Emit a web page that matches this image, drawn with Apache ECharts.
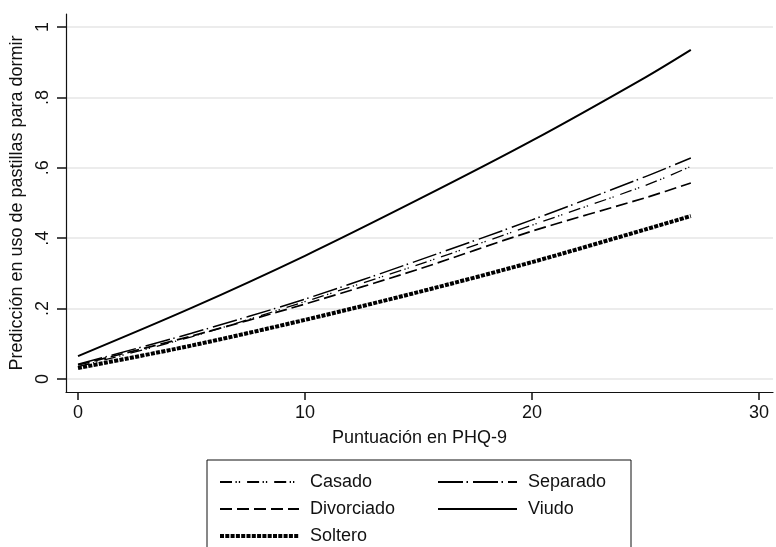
<!DOCTYPE html>
<html>
<head>
<meta charset="utf-8">
<script src="https://cdn.jsdelivr.net/npm/echarts@6/dist/echarts.min.js"></script>
<style>
  html, body { margin: 0; padding: 0; background: #fff; }
  #chart { width: 776px; height: 547px; }
</style>
</head>
<body>
<div id="chart"></div>
<script>
// puntuación PHQ-9 (eje x)
const xValues = [0, 5, 10, 15, 20, 25, 27];
// predicciones
const casado = [0.035, 0.120, 0.220, 0.325, 0.437, 0.550, 0.604];
const separado = [0.042, 0.130, 0.227, 0.337, 0.452, 0.575, 0.628];
const divorciado = [0.040, 0.122, 0.213, 0.312, 0.420, 0.515, 0.557];
const viudo = [0.065, 0.202, 0.350, 0.510, 0.677, 0.857, 0.935];
const soltero = [0.031, 0.095, 0.168, 0.247, 0.332, 0.425, 0.463];
const yTicks = [0, 0.2, 0.4, 0.6, 0.8, 1];
const xTicks = [0, 10, 20, 30];
const legendOrder = ['Casado', 'Separado', 'Divorciado', 'Viudo', 'Soltero'];
const rightColumn = ['Separado', 'Viudo'];

const font = 'Liberation Sans, Arial, sans-serif';
const chart = echarts.init(document.getElementById('chart'));

function pts(ys) {
  return xValues.map((x, i) => [x, ys[i]]);
}
function line(name, ys, style) {
  return {
    name: name,
    type: 'line',
    data: pts(ys),
    showSymbol: false,
    symbol: 'none',
    smooth: 0.3,
    silent: true,
    color: '#000',
    itemStyle: { color: '#000' },
    lineStyle: Object.assign({ color: '#000', cap: 'butt' }, style)
  };
}

const solteroStyle = { width: 4, type: [4, 1.3] };

const option = {
  animation: false,
  backgroundColor: '#fff',
  grid: { left: 66, right: 3, top: 14, bottom: 155, containLabel: false, outerBoundsMode: 'none' },
  xAxis: {
    type: 'value',
    min: -0.529,
    max: 30.62,
    name: 'Puntuación en PHQ-9',
    nameLocation: 'middle',
    nameGap: 37,
    nameTextStyle: { fontFamily: font, fontSize: 18, color: '#111' },
    axisLine: { show: true, onZero: false, lineStyle: { color: '#111', width: 1.2 } },
    axisTick: { show: true, length: 8, customValues: xTicks, lineStyle: { color: '#111', width: 1.5 } },
    axisLabel: { customValues: xTicks, margin: 12, fontFamily: font, fontSize: 18, color: '#111' },
    splitLine: { show: false }
  },
  yAxis: {
    type: 'value',
    min: -0.0369,
    max: 1.0369,
    name: 'Predicción en uso de pastillas para dormir',
    nameLocation: 'middle',
    nameGap: 38,
    nameTextStyle: { fontFamily: font, fontSize: 18, color: '#111' },
    axisLine: { show: true, onZero: false, lineStyle: { color: '#111', width: 1.2 } },
    axisTick: { show: true, length: 9, customValues: yTicks, lineStyle: { color: '#111', width: 1.5 } },
    axisLabel: {
      customValues: yTicks,
      rotate: 90,
      margin: 14,
      fontFamily: font,
      fontSize: 18,
      color: '#111',
      formatter: v => (v === 0 ? '0' : v === 1 ? '1' : String(v).replace(/^0/, ''))
    },
    splitLine: { show: true, lineStyle: { color: '#e6e6e6', width: 1.5 } }
  },
  legend: {
    data: legendOrder.map(n => (n === 'Soltero' ? { name: n, lineStyle: solteroStyle } : n)),
    left: 207,
    top: 460,
    width: 430,
    orient: 'horizontal',
    padding: [13, 3, 12, 11],
    itemGap: 9,
    itemWidth: 79,
    itemHeight: 14,
    borderColor: '#111',
    borderWidth: 1,
    selectedMode: false,
    itemStyle: { opacity: 0 },
    formatter: name => (rightColumn.indexOf(name) >= 0 ? '{b|' + name + '}' : '{a|' + name + '}'),
    textStyle: {
      fontFamily: font,
      fontSize: 18,
      color: '#111',
      rich: {
        a: { fontFamily: font, fontSize: 18, color: '#111', width: 118, lineHeight: 17, padding: [0, 0, 0, 6] },
        b: { fontFamily: font, fontSize: 18, color: '#111', width: 100, lineHeight: 17, padding: [0, 0, 0, 6] }
      }
    }
  },
  series: [
    line('Casado', casado, { width: 1.3, type: [12, 3.5, 1.3, 2, 1.3, 7] }),
    line('Divorciado', divorciado, { width: 1.7, type: [12, 5] }),
    line('Separado', separado, { width: 1.5, type: [25, 3.5, 1.5, 5] }),
    line('Soltero', soltero, solteroStyle),
    line('Viudo', viudo, { width: 2, type: 'solid' })
  ]
};

chart.setOption(option);
</script>
</body>
</html>
